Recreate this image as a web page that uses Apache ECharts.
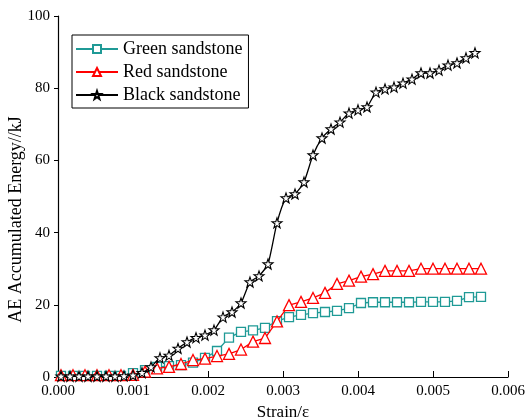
<!DOCTYPE html>
<html>
<head>
<meta charset="utf-8">
<script src="https://cdn.jsdelivr.net/npm/echarts@6/dist/echarts.min.js"></script>
<style>html,body{margin:0;padding:0;background:#fff}#c{width:527px;height:420px}</style>
</head>
<body>
<div id="c"></div>
<script>
// ---- data ----
const xTickLabels = ['0.000','0.001','0.002','0.003','0.004','0.005','0.006'];
const yTickLabels = ['0','20','40','60','80','100'];

const greenStrain = [0.00004,0.0002,0.00036,0.00052,0.00068,0.00084,0.001,0.00116,0.00132,0.00148,0.00164,0.0018,0.00196,0.00212,0.00228,0.00244,0.0026,0.00276,0.00292,0.00308,0.00324,0.0034,0.00356,0.00372,0.00388,0.00404,0.0042,0.00436,0.00452,0.00468,0.00484,0.005,0.00516,0.00532,0.00548,0.00564];
const greenEnergy = [0.3,0.3,0.3,0.3,0.3,0.3,1.1,1.9,2.8,3.0,3.3,4.0,5.3,7.2,10.9,12.5,12.9,13.6,15.5,16.6,17.2,17.7,18.0,18.3,19.1,20.5,20.7,20.7,20.7,20.7,20.8,20.8,20.8,21.1,22.1,22.2];

const redStrain = greenStrain.slice();
const redEnergy = [0.5,0.5,0.5,0.5,0.5,0.5,0.6,1.5,2.4,2.8,3.6,4.7,5.1,5.8,6.4,7.6,9.8,10.8,15.4,19.9,20.8,21.9,23.3,25.8,26.7,27.8,28.5,29.4,29.4,29.4,30.0,30.0,30.0,30.0,30.0,30.0];

const blackStrain = [0.00004,0.00016,0.00028,0.0004,0.00052,0.00064,0.00076,0.00088,0.001,0.00112,0.00124,0.00136,0.00148,0.0016,0.00172,0.00184,0.00196,0.00208,0.0022,0.00232,0.00244,0.00256,0.00268,0.0028,0.00292,0.00304,0.00316,0.00328,0.0034,0.00352,0.00364,0.00376,0.00388,0.004,0.00412,0.00424,0.00436,0.00448,0.0046,0.00472,0.00484,0.00496,0.00508,0.0052,0.00532,0.00544,0.00556];
const blackEnergy = [0.2,0.2,0.2,0.2,0.2,0.2,0.2,0.3,0.5,1.2,2.8,5.3,6.0,7.9,9.7,10.9,11.6,13.0,16.6,18.0,20.5,26.3,28.0,31.3,42.7,49.6,50.7,54.0,61.5,66.2,68.7,70.6,73.1,74.0,74.8,78.9,79.8,80.3,81.4,82.5,84.2,84.2,85.0,86.4,87.0,88.4,89.8];

const seriesNames = ['Green sandstone','Red sandstone','Black sandstone'];

const pairs = (xs, ys) => xs.map((x, i) => [x, ys[i]]);
const FONT = '"Liberation Serif", "DejaVu Serif", serif';
const STAR = 'path://M50 0 L61.76 33.82 L97.55 34.55 L69.02 56.18 L79.39 90.45 L50 70 L20.61 90.45 L30.98 56.18 L2.45 34.55 L38.24 33.82 Z';

const chart = echarts.init(document.getElementById('c'), null, {renderer: 'canvas'});
chart.setOption({
  animation: false,
  backgroundColor: '#fff',
  grid: {left: 58, right: 19, top: 16, bottom: 43, containLabel: false, outerBoundsMode: 'none'},
  legend: {
    orient: 'vertical',
    left: 72, top: 35,
    data: seriesNames,
    backgroundColor: '#fff',
    borderColor: '#000',
    borderWidth: 1,
    padding: [5, 6, 4, 3],
    itemWidth: 42,
    itemHeight: 10,
    itemGap: 5,
    textStyle: {fontFamily: FONT, fontSize: 18, color: '#000'}
  },
  xAxis: {
    type: 'value',
    min: 0, max: 0.006, interval: 0.001,
    name: 'Strain/ε',
    nameLocation: 'middle',
    nameGap: 27,
    nameMoveOverlap: false,
    nameTextStyle: {fontFamily: FONT, fontSize: 17, color: '#000'},
    axisLine: {lineStyle: {color: '#000', width: 1.2}},
    axisTick: {inside: true, length: 6, lineStyle: {color: '#000'}},
    axisLabel: {
      fontFamily: FONT, fontSize: 15, color: '#000', margin: 7,
      formatter: (v) => xTickLabels[Math.round(v / 0.001)]
    },
    splitLine: {show: false}
  },
  yAxis: {
    type: 'value',
    min: 0, max: 100, interval: 20,
    name: 'AE Accumulated Energy//kJ',
    nameLocation: 'middle',
    nameGap: 33,
    nameMoveOverlap: false,
    nameTextStyle: {fontFamily: FONT, fontSize: 18, color: '#000', padding: [0, 46, 0, 0]},
    axisLine: {show: true, lineStyle: {color: '#000', width: 1.2}},
    axisTick: {show: true, inside: false, length: 4, lineStyle: {color: '#000'}},
    axisLabel: {
      fontFamily: FONT, fontSize: 15, color: '#000', margin: 8,
      formatter: (v) => yTickLabels[Math.round(v / 20)]
    },
    splitLine: {show: false}
  },
  series: [
    {
      name: seriesNames[0], type: 'line',
      data: pairs(greenStrain, greenEnergy),
      symbol: 'rect', symbolSize: 9,
      lineStyle: {color: '#1f9a96', width: 1.3},
      itemStyle: {color: '#fff', borderColor: '#1f9a96', borderWidth: 1.3},
      z: 2
    },
    {
      name: seriesNames[1], type: 'line',
      data: pairs(redStrain, redEnergy),
      symbol: 'triangle', symbolSize: 11,
      lineStyle: {color: '#ff0000', width: 1.3},
      itemStyle: {color: '#fff', borderColor: '#ff0000', borderWidth: 1.3},
      z: 3
    },
    {
      name: seriesNames[2], type: 'line',
      data: pairs(blackStrain, blackEnergy),
      symbol: STAR, symbolSize: 10,
      smooth: 0.2,
      lineStyle: {color: '#000', width: 1.3},
      itemStyle: {color: '#fff', borderColor: '#000', borderWidth: 1.1},
      z: 4
    }
  ]
});
</script>
</body>
</html>
